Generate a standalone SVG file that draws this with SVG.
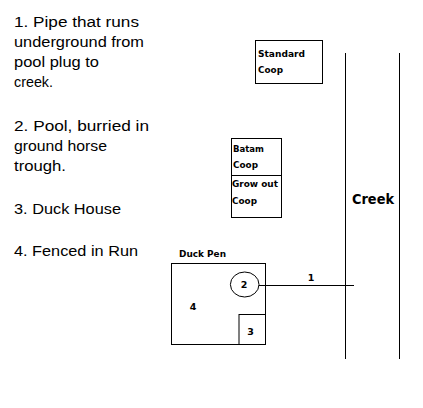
<svg xmlns="http://www.w3.org/2000/svg" width="423" height="408" viewBox="0 0 423 408">
<style>
.note{font-family:"Liberation Sans","DejaVu Sans",sans-serif;font-size:14px;fill:#000}
.lbl{font-family:"DejaVu Sans","Liberation Sans",sans-serif;font-size:9.5px;font-weight:bold;fill:#000}
.big{font-family:"DejaVu Sans","Liberation Sans",sans-serif;font-size:14px;font-weight:bold;fill:#000}
.box{fill:none;stroke:#000;stroke-width:1}
</style>
<rect width="423" height="408" fill="#fff"/>
<g id="legend">
<text class="note" x="14" y="27" textLength="125" lengthAdjust="spacingAndGlyphs">1. Pipe that runs</text>
<text class="note" x="14" y="47" textLength="130" lengthAdjust="spacingAndGlyphs">underground from</text>
<text class="note" x="14" y="67" textLength="85" lengthAdjust="spacingAndGlyphs">pool plug to</text>
<text class="note" x="14" y="87" textLength="39" lengthAdjust="spacingAndGlyphs">creek.</text>
<text class="note" x="14" y="131" textLength="135" lengthAdjust="spacingAndGlyphs">2. Pool, burried in</text>
<text class="note" x="14" y="151" textLength="93" lengthAdjust="spacingAndGlyphs">ground horse</text>
<text class="note" x="14" y="171" textLength="52" lengthAdjust="spacingAndGlyphs">trough.</text>
<text class="note" x="14" y="214" textLength="107" lengthAdjust="spacingAndGlyphs">3. Duck House</text>
<text class="note" x="14" y="256" textLength="124" lengthAdjust="spacingAndGlyphs">4. Fenced in Run</text>
</g>
<g id="standard-coop">
<rect class="box" x="255.5" y="40.5" width="67" height="43"/>
<text class="lbl" x="258" y="57" textLength="47" lengthAdjust="spacingAndGlyphs">Standard</text>
<text class="lbl" x="258" y="73" textLength="25" lengthAdjust="spacingAndGlyphs">Coop</text>
</g>
<g id="batam-coop">
<rect class="box" x="231.5" y="138.5" width="50" height="37"/>
<text class="lbl" x="233" y="152" textLength="31" lengthAdjust="spacingAndGlyphs">Batam</text>
<text class="lbl" x="233" y="168" textLength="25" lengthAdjust="spacingAndGlyphs">Coop</text>
</g>
<g id="growout-coop">
<rect class="box" x="231.5" y="175.5" width="50" height="42"/>
<text class="lbl" x="232" y="187" textLength="46" lengthAdjust="spacingAndGlyphs">Grow out</text>
<text class="lbl" x="232" y="204" textLength="25" lengthAdjust="spacingAndGlyphs">Coop</text>
</g>
<g id="creek">
<line class="box" x1="345.5" y1="53" x2="345.5" y2="359"/>
<line class="box" x1="399.5" y1="53" x2="399.5" y2="359"/>
<text class="big" x="352" y="204" textLength="42" lengthAdjust="spacingAndGlyphs">Creek</text>
</g>
<g id="duck-pen">
<text class="lbl" x="179" y="257" textLength="47" lengthAdjust="spacingAndGlyphs">Duck Pen</text>
<rect class="box" x="171.5" y="263.5" width="94" height="81"/>
<text class="lbl" x="193" y="310" text-anchor="middle">4</text>
</g>
<g id="pool">
<ellipse class="box" cx="244.7" cy="284.5" rx="14.3" ry="12.5"/>
<text class="lbl" x="244" y="287.5" text-anchor="middle">2</text>
</g>
<g id="duck-house">
<rect class="box" x="239" y="314.5" width="26.5" height="30"/>
<text class="lbl" x="250.5" y="335" text-anchor="middle">3</text>
</g>
<g id="connectors">
<line class="box" x1="259" y1="285.5" x2="354" y2="285.5"/>
<text class="lbl" x="311" y="281" text-anchor="middle">1</text>
</g>
</svg>
